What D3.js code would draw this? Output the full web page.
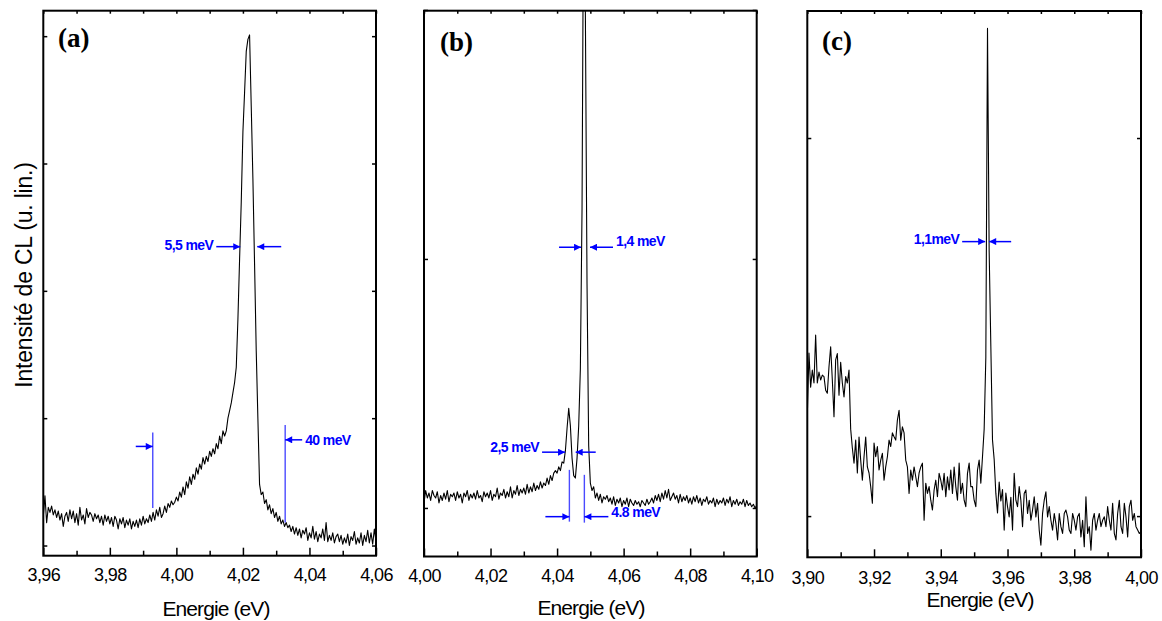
<!DOCTYPE html>
<html><head><meta charset="utf-8">
<script src="https://cdn.jsdelivr.net/npm/d3@7"></script>
<style>
body{margin:0;background:#fff;}
svg{display:block;font-family:"Liberation Sans",Arial,sans-serif;}
</style></head><body>
<svg id="chart" width="1162" height="621"></svg>
<script>
// ---------- DATA ----------
const panelLabels = ["(a)", "(b)", "(c)"];
const xTitle = "Energie (eV)";
const yTitle = "Intensité de CL (u. lin.)";
const energyStep = 0.0005; // sampling grid of the spectra (eV)

const xDomainA = [3.96, 4.06];
const xDomainB = [4.00, 4.10];
const xDomainC = [3.90, 4.00];
const xTicksA = [3.96, 3.98, 4.00, 4.02, 4.04, 4.06];
const xTicksB = [4.00, 4.02, 4.04, 4.06, 4.08, 4.10];
const xTicksC = [3.90, 3.92, 3.94, 3.96, 3.98, 4.00];
const xMinorA = [3.97, 3.99, 4.01, 4.03, 4.05];
const xMinorB = [4.01, 4.03, 4.05, 4.07, 4.09];
const xMinorC = [3.91, 3.93, 3.95, 3.97, 3.99];
const yTicksA = [0, 1000, 2000, 3000, 4000];
const yTicksB = [0, 1000, 2000];
const yTicksC = [0, 1000];
const yDomainA = [-80, 4200];
const yDomainB = [-195, 1997];
const yDomainC = [-109, 1336];

// CL intensity (arb. units), one value per grid step starting at xDomain[0]
const intensityA = [
 230,390,180,300,260,310,240,280,220,270,
 200,250,150,230,260,190,280,210,270,180,
 250,160,300,200,240,170,290,220,260,240,
 190,250,210,240,180,230,160,240,190,230,
 170,220,150,230,200,130,210,170,220,140,
 200,160,210,130,190,150,200,140,210,160,
 230,170,210,180,240,190,260,200,280,230,
 300,220,250,310,260,330,300,350,320,340,
 380,350,420,380,460,400,500,450,540,480,
 560,520,610,560,640,600,690,640,700,660,
 740,700,760,720,800,760,860,800,900,860,
 900,1000,1060,1120,1200,1280,1400,1780,2250,2700,
 3250,3560,3880,3975,4010,3450,2880,2210,1530,995,
 480,400,420,330,360,280,320,250,290,220,
 260,190,230,170,200,150,180,140,160,110,
 150,90,140,80,130,60,120,90,140,40,
 100,60,150,50,110,30,90,60,130,40,
 180,30,80,40,100,20,70,90,30,80,
 10,60,20,90,0,70,40,110,10,60,
 20,100,0,80,30,120,20,100,10,130,
 30
];
const intensityB = [
 20,70,40,60,30,70,50,40,65,20,
 50,30,60,35,70,25,55,45,60,30,
 65,40,55,20,60,45,70,30,55,40,
 60,35,70,40,50,25,65,45,60,40,
 70,30,55,45,80,35,60,50,75,40,
 65,45,85,40,70,55,90,50,75,60,
 80,55,95,60,85,65,100,70,90,75,
 105,80,100,90,120,95,130,110,140,150,
 140,165,150,185,180,230,320,400,330,200,
 130,120,200,330,560,1200,2600,2000,900,250,
 100,70,85,40,60,30,55,20,45,35,
 50,25,40,15,45,10,35,20,40,5,
 30,15,40,5,35,20,10,30,15,25,
 5,30,20,10,35,15,25,40,20,50,
 30,55,25,60,35,70,40,75,30,45,
 60,35,50,20,55,25,45,30,50,20,
 40,15,45,25,50,20,40,10,35,25,
 45,15,30,20,40,5,35,15,30,20,
 40,10,35,20,45,5,30,15,35,10,
 25,15,35,5,30,10,20,5,15,0,
 10
];
const intensityC = [
 267,431,341,386,352,479,352,381,360,373,
 369,333,325,395,448,360,263,413,430,320,
 407,352,315,369,352,386,230,180,140,201,
 114,209,148,95,157,209,130,114,78,34,
 193,157,184,122,148,166,95,130,157,201,
 184,220,210,201,254,280,201,236,220,148,
 130,60,122,95,130,104,78,114,130,140,
 -11,87,60,78,42,16,69,95,51,113,
 95,69,113,51,104,69,122,60,130,78,
 42,140,60,87,42,25,113,140,78,78,
 42,25,122,148,87,157,230,420,1290,700,
 450,201,150,60,8,90,40,70,-37,61,
 25,-2,50,-37,113,42,25,78,42,-28,
 60,69,7,42,-11,16,51,-2,34,-37,
 -77,7,42,64,-2,25,-11,-37,7,-20,
 -63,7,-28,-46,7,16,-2,-37,-46,7,
 -11,-37,-2,7,-55,-11,-81,51,-46,-28,
 -90,-11,7,-37,-11,7,-28,-11,-2,-28,
 25,-11,-37,34,-46,-63,7,42,-28,-46,
 34,-2,-55,25,42,-11,7,-28,-37,-46,
 -40
];

// width annotations: label, y level, left / right edge (eV)
const fwhmLabelsA = ["5,5 meV", "40 meV"];
const fwhmLabelsB = ["1,4 meV", "2,5 meV", "4.8 meV"];
const fwhmLabelsC = ["1,1meV"];
const fwhmEdgesA = [[4.0192, 4.0243], [3.9929, 4.0327]];
const fwhmEdgesB = [[4.0472, 4.0499], [4.0424, 4.0456], [4.0437, 4.0482]];
const fwhmEdgesC = [[3.9533, 3.9545]];
const fwhmLevelA = [2347, 830];
const fwhmLevelB = [1047, 224, -35];
const fwhmLevelC = [726];

// ---------- LAYOUT / STYLE ----------
const blue = "#0000ff";
const sans = '"Liberation Sans",Arial,sans-serif';
const serif = '"Liberation Serif","Times New Roman",serif';
const layout = [
  {l:43.3, r:376, t:10.7, b:555.7, labelX:58, labelY:47, titleX:216, titleY:616, tickPad:12.5},
  {l:424, r:756.7, t:10.7, b:556.5, labelX:440, labelY:51, titleX:591, titleY:615, tickPad:12.7},
  {l:807.3, r:1141, t:11, b:557.3, labelX:822, labelY:50, titleX:980, titleY:607, tickPad:13.5}
];
const annotStyle = [
  [ {lenL:24, lenR:24, text:"left", textDy:3.5, dyL:0, dyR:0},
    {lenL:17, lenR:17, text:"right", textDy:5, dyL:6.6, dyR:0,
     lines:[[887, 294], [947, 180]]} ],
  [ {lenL:22, lenR:23, text:"right", textDy:-1},
    {lenL:23, lenR:20, text:"left", textDy:0},
    {lenL:24, lenR:24, text:"right", textDy:0.5,
     lines:[[153, -55], [133, -59]]} ],
  [ {lenL:23, lenR:22, text:"left", textDy:2.5} ]
];

const panels = [
  {xDomain:xDomainA, xTicks:xTicksA, xMinor:xMinorA, yDomain:yDomainA, yTicks:yTicksA, values:intensityA,
   labels:fwhmLabelsA, edges:fwhmEdgesA, levels:fwhmLevelA},
  {xDomain:xDomainB, xTicks:xTicksB, xMinor:xMinorB, yDomain:yDomainB, yTicks:yTicksB, values:intensityB,
   labels:fwhmLabelsB, edges:fwhmEdgesB, levels:fwhmLevelB},
  {xDomain:xDomainC, xTicks:xTicksC, xMinor:xMinorC, yDomain:yDomainC, yTicks:yTicksC, values:intensityC,
   labels:fwhmLabelsC, edges:fwhmEdgesC, levels:fwhmLevelC}
];

const svg = d3.select("#chart");
const defs = svg.append("defs");
defs.append("marker").attr("id","ah").attr("viewBox","0 0 10 10")
  .attr("refX",10).attr("refY",5).attr("markerUnits","userSpaceOnUse")
  .attr("markerWidth",9).attr("markerHeight",7).attr("orient","auto")
  .append("path").attr("d","M0,0L10,5L0,10Z").attr("fill",blue);

const fmt = d => d3.format(".2f")(d).replace(".", ",");

panels.forEach((p, i) => {
  const L = layout[i];
  const x = d3.scaleLinear().domain(p.xDomain).range([L.l, L.r]);
  const y = d3.scaleLinear().domain(p.yDomain).range([L.b, L.t]);
  const g = svg.append("g");

  defs.append("clipPath").attr("id","clip"+i).append("rect")
    .attr("x",L.l).attr("y",L.t).attr("width",L.r-L.l).attr("height",L.b-L.t);

  const pts = p.values.map((v,k) => [p.xDomain[0] + k*energyStep, v]);
  g.append("path").datum(pts).attr("clip-path",`url(#clip${i})`)
    .attr("fill","none").attr("stroke","#000").attr("stroke-width",1.1)
    .attr("stroke-linejoin","round")
    .attr("d", d3.line().x(d => x(d[0])).y(d => y(d[1])));

  const bottom = g.append("g").attr("transform",`translate(0,${L.b})`)
    .call(d3.axisBottom(x).tickValues(p.xTicks).tickSizeInner(-8).tickSizeOuter(0)
      .tickPadding(L.tickPad).tickFormat(fmt));
  bottom.selectAll("text").style("font-size","18px").style("letter-spacing","-0.6px")
    .style("font-family",sans).attr("fill","#000");
  const minor = g.append("g").attr("transform",`translate(0,${L.b})`)
    .call(d3.axisBottom(x).tickValues(p.xMinor).tickSizeInner(-5).tickSizeOuter(0).tickFormat(""));
  const top = g.append("g").attr("transform",`translate(0,${L.t})`)
    .call(d3.axisTop(x).tickValues(p.xTicks.concat(p.xMinor)).tickSizeInner(-3).tickSizeOuter(0).tickFormat(""));
  const left = g.append("g").attr("transform",`translate(${L.l},0)`)
    .call(d3.axisLeft(y).tickValues(p.yTicks).tickSizeInner(-4).tickSizeOuter(0).tickFormat(""));
  const right = g.append("g").attr("transform",`translate(${L.r},0)`)
    .call(d3.axisRight(y).tickValues(p.yTicks).tickSizeInner(-4).tickSizeOuter(0).tickFormat(""));
  [bottom, minor, top, left, right].forEach(a => {
    a.select(".domain").remove();
    a.selectAll("line").attr("stroke","#000").attr("stroke-width",1.5);
  });

  g.append("rect").attr("x",L.l).attr("y",L.t).attr("width",L.r-L.l).attr("height",L.b-L.t)
    .attr("fill","none").attr("stroke","#000").attr("stroke-width",2);

  g.append("text").attr("x",L.labelX).attr("y",L.labelY).text(panelLabels[i])
    .style("font-family",serif).style("font-weight","bold").style("font-size","27px");

  g.append("text").attr("x",L.titleX).attr("y",L.titleY).attr("text-anchor","middle")
    .style("font-family",sans).style("font-size","21px").style("letter-spacing","-0.9px").text(xTitle);

  p.labels.forEach((lab, j) => {
    const st = annotStyle[i][j];
    const [e0, e1] = p.edges[j];
    const yy = y(p.levels[j]);
    const yL = yy + (st.dyL || 0), yR = yy + (st.dyR || 0);
    const x0 = x(e0), x1 = x(e1);
    if (st.lines) {
      st.lines.forEach((ln, k) => {
        const xe = k === 0 ? x0 : x1;
        g.append("line").attr("x1",xe).attr("x2",xe).attr("y1",y(ln[0])).attr("y2",y(ln[1]))
          .attr("stroke","#4a4aff").attr("stroke-width",1.4);
      });
    }
    g.append("line").attr("x1",x0-st.lenL).attr("x2",x0).attr("y1",yL).attr("y2",yL)
      .attr("stroke",blue).attr("stroke-width",1.5).attr("marker-end","url(#ah)");
    g.append("line").attr("x1",x1+st.lenR).attr("x2",x1).attr("y1",yR).attr("y2",yR)
      .attr("stroke",blue).attr("stroke-width",1.5).attr("marker-end","url(#ah)");
    const t = g.append("text").style("font-family",sans).style("font-size","14px")
      .style("font-weight","bold").style("letter-spacing","-0.6px").attr("fill",blue).text(lab);
    if (st.text === "left") {
      t.attr("x", x0 - st.lenL - 3).attr("y", yL + st.textDy).attr("text-anchor","end");
    } else {
      t.attr("x", x1 + st.lenR + 3).attr("y", yR + st.textDy).attr("text-anchor","start");
    }
  });
});

svg.append("text").attr("transform","translate(32,275) rotate(-90)")
  .attr("text-anchor","middle").style("font-family",sans).style("font-size","23px")
  .style("letter-spacing","-0.2px").text(yTitle);
</script>
</body></html>
